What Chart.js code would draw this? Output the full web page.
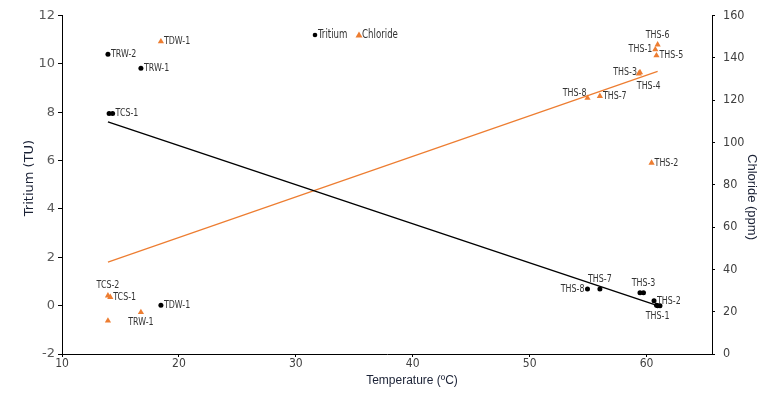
<!DOCTYPE html>
<html>
<head>
<meta charset="utf-8">
<script src="https://cdn.jsdelivr.net/npm/chart.js@4.4.1/dist/chart.umd.min.js"></script>
<style>
  html, body { margin: 0; padding: 0; background: #fff; }
</style>
</head>
<body>
<canvas id="chart" width="773" height="395"></canvas>
<script>
// Tritium samples (temperature in degC, tritium in TU)
const tritiumSamples = ['TRW-2', 'TRW-1', 'TCS-1', 'TCS-2', 'TDW-1', 'THS-8', 'THS-7', 'THS-3', 'THS-4', 'THS-2', 'THS-1', 'THS-5', 'THS-6'];
const tritiumTemp = [13.93, 16.75, 14.33, 14.03, 18.46, 54.95, 56.01, 59.74, 59.44, 60.64, 60.95, 61.15, 60.85];
const tritiumValues = [10.4, 9.82, 7.95, 7.95, 0.02, 0.69, 0.69, 0.53, 0.53, 0.2, 0.0, 0.0, 0.02];

// Chloride samples (temperature in degC, chloride in ppm)
const chlorideSamples = ['TDW-1', 'TCS-2', 'TCS-1', 'TRW-2', 'TRW-1', 'THS-6', 'THS-1', 'THS-5', 'THS-3', 'THS-4', 'THS-8', 'THS-7', 'THS-2'];
const chlorideTemp = [18.46, 13.93, 14.13, 13.93, 16.75, 60.95, 60.75, 60.85, 59.44, 59.34, 54.95, 56.01, 60.43];
const chlorideValues = [147.7, 27.6, 26.9, 15.7, 19.7, 146.2, 143.9, 141.1, 133.1, 132.5, 121.0, 121.9, 90.3];

// Linear trend lines (end points)
const tritiumFitTemp = [13.93, 60.95];
const tritiumFitValues = [7.6, 0.0];
const chlorideFitTemp = [13.93, 60.95];
const chlorideFitValues = [43.4, 133.6];

// Axis ranges
const tempRange = [10, 65.6];
const tritiumRange = [-2, 12];
const chlorideRange = [0, 160];

// where each point label sits
const tritiumPlacement = ['right', 'right', 'right', 'none', 'right', 'left', 'above', 'above', 'none', 'right', 'below', 'none', 'none'];
const chloridePlacement = ['right', 'above', 'right', 'none', 'below', 'above', 'left', 'right', 'left', 'lowerRight', 'upperLeft', 'right', 'right'];

const orange = '#ED7D31';
const titleColor = '#1b2236';
const narrow = "'Liberation Sans Narrow', 'DejaVu Sans Condensed', sans-serif";
const arial = "'Liberation Sans', Arial, sans-serif";

const pts = (xs, ys) => xs.map((x, i) => ({ x: x, y: ys[i] }));

// squeezed text, the original uses a narrow face
function narrowText(ctx, text, x, y, squeeze) {
    ctx.save();
    ctx.translate(x, y);
    ctx.scale(squeeze, 1);
    ctx.fillText(text, 0, 0);
    ctx.restore();
}

function rotatedText(ctx, text, x, y, angle) {
    ctx.save();
    ctx.translate(x, y);
    ctx.rotate(angle);
    ctx.fillText(text, 0, 0);
    ctx.restore();
}

const pointLabels = {
    id: 'pointLabels',
    afterDatasetsDraw(chart) {
        const ctx = chart.ctx;
        const sets = [
            { idx: 0, names: tritiumSamples, place: tritiumPlacement },
            { idx: 1, names: chlorideSamples, place: chloridePlacement }
        ];
        ctx.save();
        ctx.font = '11px ' + narrow;
        ctx.fillStyle = '#333';
        sets.forEach(s => {
            const meta = chart.getDatasetMeta(s.idx);
            meta.data.forEach((el, j) => {
                const p = s.place[j];
                if (p === 'none') return;
                let x = el.x, y = el.y;
                ctx.textBaseline = 'middle';
                ctx.textAlign = 'left';
                if (p === 'right') { x += 3; }
                else if (p === 'left') { ctx.textAlign = 'right'; x -= 3; }
                else if (p === 'above') { ctx.textAlign = 'center'; y -= 10; }
                else if (p === 'below') { ctx.textAlign = 'center'; y += 10; }
                else if (p === 'upperLeft') { ctx.textAlign = 'right'; x -= 1; y -= 5; }
                else if (p === 'lowerRight') { x -= 2; y += 12; }
                narrowText(ctx, s.names[j], x, y, 0.8);
            });
        });

        // legend inside the plot
        ctx.font = '12px ' + narrow;
        ctx.textAlign = 'left';
        ctx.textBaseline = 'middle';
        const ly = 35;
        ctx.fillStyle = '#000';
        ctx.beginPath();
        ctx.arc(315, ly, 2.3, 0, Math.PI * 2);
        ctx.fill();
        ctx.fillStyle = '#333';
        narrowText(ctx, 'Tritium', 318, ly, 0.8);
        ctx.fillStyle = orange;
        ctx.beginPath();
        ctx.moveTo(359, ly - 3.5);
        ctx.lineTo(362.5, ly + 2.5);
        ctx.lineTo(355.5, ly + 2.5);
        ctx.closePath();
        ctx.fill();
        ctx.fillStyle = '#333';
        narrowText(ctx, 'Chloride', 362, ly, 0.8);

        // axis titles, placed as in the original (not centred on the plot)
        ctx.fillStyle = titleColor;
        ctx.textAlign = 'center';
        ctx.textBaseline = 'middle';
        ctx.font = '13px DejaVu Sans';
        rotatedText(ctx, 'Tritium (TU)', 30, 178, -Math.PI / 2);
        ctx.font = '13px ' + arial;
        rotatedText(ctx, 'Chloride (ppm)', 752, 197, Math.PI / 2);
        ctx.font = '12px ' + arial;
        ctx.fillText('Temperature (ºC)', 412, 381);
        ctx.restore();
    }
};

new Chart(document.getElementById('chart'), {
    type: 'scatter',
    data: {
        datasets: [
            {
                label: 'Tritium',
                data: pts(tritiumTemp, tritiumValues),
                yAxisID: 'y',
                pointStyle: 'circle',
                pointRadius: 2.5,
                backgroundColor: '#000',
                borderColor: '#000',
                borderWidth: 0
            },
            {
                label: 'Chloride',
                data: pts(chlorideTemp, chlorideValues),
                yAxisID: 'y1',
                pointStyle: 'triangle',
                pointRadius: 3.6,
                backgroundColor: orange,
                borderColor: orange,
                borderWidth: 0
            },
            {
                type: 'line',
                label: 'Tritium trend',
                data: pts(tritiumFitTemp, tritiumFitValues),
                yAxisID: 'y',
                borderColor: '#000',
                borderWidth: 1.4,
                pointRadius: 0,
                fill: false
            },
            {
                type: 'line',
                label: 'Chloride trend',
                data: pts(chlorideFitTemp, chlorideFitValues),
                yAxisID: 'y1',
                borderColor: orange,
                borderWidth: 1.2,
                pointRadius: 0,
                fill: false
            }
        ]
    },
    options: {
        responsive: false,
        animation: false,
        layout: { padding: { top: 15, left: 0, right: 0, bottom: 0 } },
        plugins: {
            legend: { display: false },
            tooltip: { enabled: false }
        },
        scales: {
            x: {
                type: 'linear',
                min: tempRange[0],
                max: tempRange[1],
                afterBuildTicks: s => { s.ticks = s.ticks.filter(t => t.value % 10 === 0); },
                afterFit: s => { s.height = 41; },
                ticks: { stepSize: 10, padding: 0, color: '#404040', font: { family: narrow, size: 12 } },
                grid: { drawOnChartArea: false, drawTicks: true, tickLength: 3, color: '#000' },
                border: { color: '#000', width: 1 }
            },
            y: {
                type: 'linear',
                position: 'left',
                min: tritiumRange[0],
                max: tritiumRange[1],
                afterFit: s => { s.width = 62; },
                ticks: { stepSize: 2, padding: 3, color: '#595959', font: { family: 'DejaVu Sans', size: 13 } },
                grid: { drawOnChartArea: false, drawTicks: true, tickLength: 4, color: '#000' },
                border: { color: '#000', width: 1 }
            },
            y1: {
                type: 'linear',
                position: 'right',
                min: chlorideRange[0],
                max: chlorideRange[1],
                afterFit: s => { s.width = 61; },
                ticks: { stepSize: 20, padding: 8, color: '#404040', font: { family: narrow, size: 12.5 } },
                grid: { drawOnChartArea: false, drawTicks: true, tickLength: 3, color: '#000' },
                border: { color: '#000', width: 1 }
            }
        }
    },
    plugins: [pointLabels]
});
</script>
</body>
</html>
